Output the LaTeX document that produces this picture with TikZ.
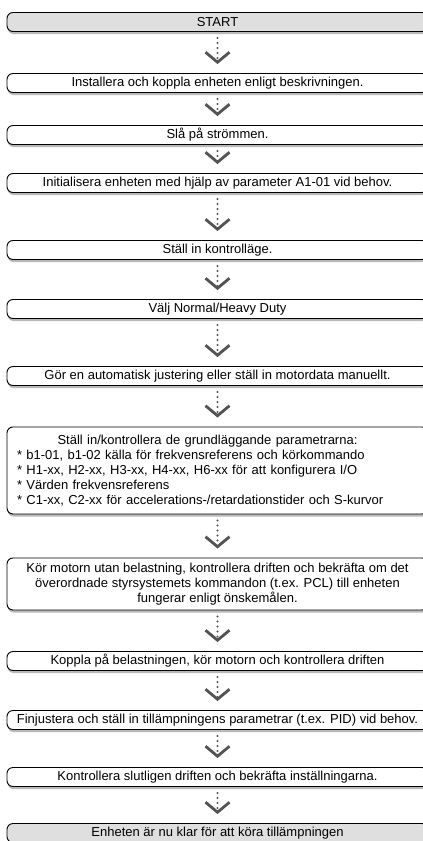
\documentclass[tikz,border=0pt]{standalone}
\usepackage{fontspec}
\setmainfont{Liberation Sans}
\usetikzlibrary{arrows.meta,shadows}

\begin{document}
\begin{tikzpicture}[x=1pt, y=-1pt,
    stepbox/.style={draw=black, line width=0.9pt, rounded corners=6pt, fill=white,
      minimum width=421pt, minimum height=19pt, inner sep=0pt,
      font=\fontsize{13}{15}\selectfont,
      drop shadow={shadow xshift=0.5pt, shadow yshift=-2.5pt, fill=gray!55, opacity=1}},
    endbox/.style={stepbox, fill=gray!25},
    flow/.style={gray!65!black, line width=2.4pt, line cap=round,
      dash pattern=on 0pt off 5pt, shorten <=6pt, shorten >=9pt,
      -{Straight Barb[length=10pt, width=24pt, line width=2.8pt]}}]
  \useasboundingbox (0,0) rectangle (423,841);

  \node[endbox] (start) at (217.5,22) {START};
  \node[stepbox] (install) at (217.5,83) {Installera och koppla enheten enligt beskrivningen.};
  \node[stepbox] (power) at (217.5,135) {Slå på strömmen.};
  \node[stepbox] (init) at (217.5,183) {Initialisera enheten med hjälp av parameter A1-01 vid behov.};
  \node[stepbox] (mode) at (217.5,250) {Ställ in kontrolläge.};
  \node[stepbox] (duty) at (217.5,309) {Välj Normal/Heavy Duty};
  \node[stepbox] (tune) at (217.5,376) {Gör en automatisk justering eller ställ in motordata manuellt.};
  \node[stepbox, minimum height=87pt, inner xsep=10pt, text width=401pt, align=left] (basic) at (217.5,470.5)
    {\makebox[381pt]{Ställ in/kontrollera de grundläggande parametrarna:}\\
     {*} b1-01, b1-02 källa för frekvensreferens och körkommando\\
     {*} H1-xx, H2-xx, H3-xx, H4-xx, H6-xx för att konfigurera I/O\\
     {*} Värden frekvensreferens\\
     {*} C1-xx, C2-xx för accelerations-/retardationstider och S-kurvor};
  \node[stepbox, minimum height=52pt, align=center] (noload) at (217.5,584)
    {Kör motorn utan belastning, kontrollera driften och bekräfta om det\\
     överordnade styrsystemets kommandon (t.ex. PCL) till enheten\\
     fungerar enligt önskemålen.};
  \node[stepbox] (load) at (217.5,661) {Koppla på belastningen, kör motorn och kontrollera driften};
  \node[stepbox] (fine) at (217.5,720) {Finjustera och ställ in tillämpningens parametrar (t.ex. PID) vid behov.};
  \node[stepbox] (check) at (217.5,777) {Kontrollera slutligen driften och bekräfta inställningarna.};
  \node[endbox] (ready) at (217.5,833) {Enheten är nu klar för att köra tillämpningen};

  \foreach \a/\b in {start/install, install/power, power/init, init/mode, mode/duty,
      duty/tune, tune/basic, basic/noload, noload/load, load/fine, fine/check, check/ready}
    \draw[flow] (\a) -- (\b);
\end{tikzpicture}
\end{document}
